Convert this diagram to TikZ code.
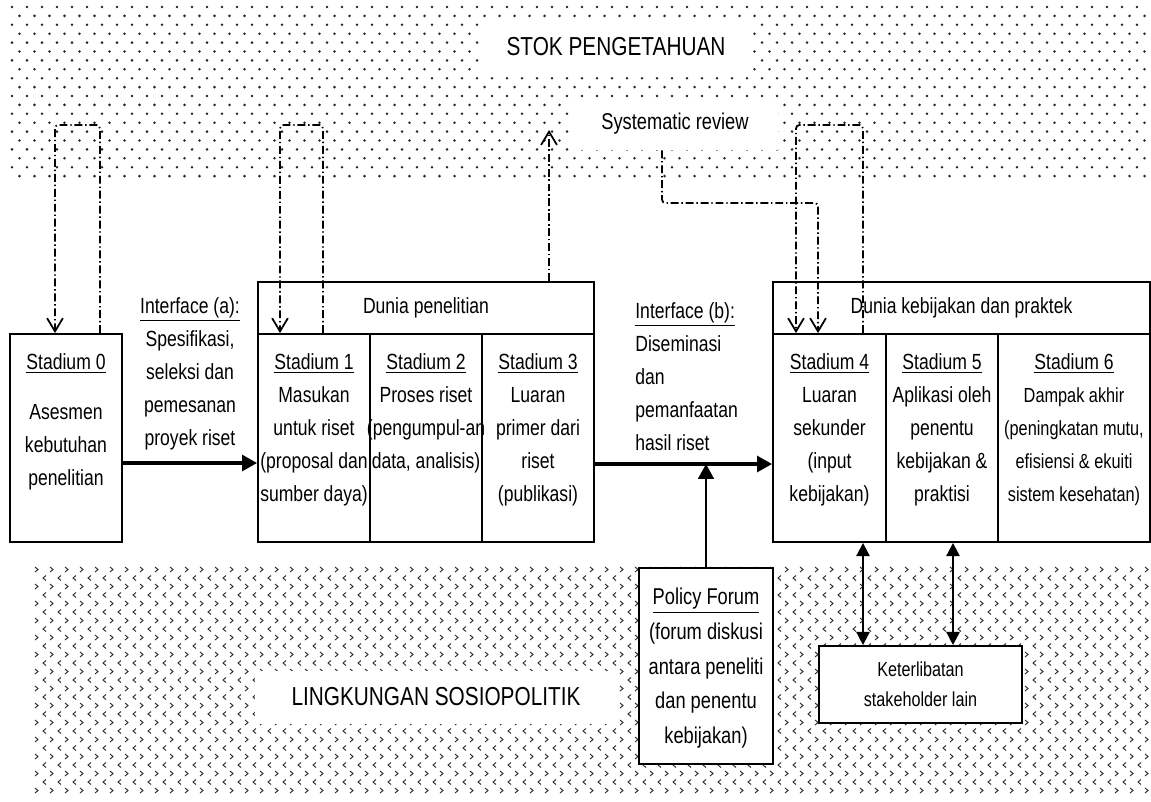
\documentclass[tikz,border=0pt]{standalone}
\usepackage{fontspec}
\setmainfont{Liberation Sans}[FakeStretch=0.8]
\usetikzlibrary{arrows.meta,positioning,calc}

\begin{document}
\begin{tikzpicture}[x=0.02cm,y=-0.02cm,
  font=\fontsize{12.5}{18.8}\selectfont,
  stbox/.style={draw,line width=1.1pt,fill=white,minimum height=4.16cm,inner sep=0pt},
  head/.style={draw,line width=1.1pt,fill=white,minimum height=1.04cm,inner sep=0pt},
  txt/.style={align=center,inner sep=0pt,anchor=north},
  cut/.style={fill=white,inner sep=0pt},
  dotc/.style={fill=black!85},
  chev/.style={draw=black!80,line width=0.55pt},
  flow/.style={-{Triangle[length=8.5pt,width=9pt]},line width=1.8pt},
  both/.style={{Triangle[length=7.5pt,width=7.5pt]}-{Triangle[length=7.5pt,width=7.5pt]},line width=1.2pt},
  dd/.style={line width=1pt,dash pattern=on 4.5pt off 1.6pt on 0.8pt off 1.6pt,rounded corners=2pt,
             -{Straight Barb[length=7.5pt,width=9pt,line width=1pt]}}]
\useasboundingbox (0,0) rectangle (1151,801);

% stok pengetahuan (dots) and lingkungan (chevrons)
\fill[dotc] \foreach \row in {0,...,19}{\foreach \col in {0,...,75}{
  ({12+15*\col+7.5*mod(\row,2)},{7+8.9*\row}) circle (0.8pt)}};
\draw[chev] \foreach \row in {0,2,...,26}{\foreach \col in {0,...,74}{
  ({35+15*\col},{567+8.5*\row}) -- ++(3,2.5) -- ++(-3,2.5)}};
\draw[chev] \foreach \row in {1,3,...,25}{\foreach \col in {0,...,73}{
  ({46+15*\col},{567+8.5*\row}) -- ++(-3,2.5) -- ++(3,2.5)}};

\node[cut,minimum width=5.44cm,minimum height=1cm,font=\fontsize{14.8}{16}\selectfont] (stok) at (616,47) {STOK PENGETAHUAN};
\node[cut,minimum width=4.12cm,minimum height=1.04cm,font=\fontsize{13}{16}\selectfont] (sysrev) at (675,124) {Systematic review};
\node[cut,minimum width=7.24cm,minimum height=1.06cm,font=\fontsize{14.8}{16}\selectfont] (ling) at (436,697) {LINGKUNGAN SOSIOPOLITIK};

% stadium boxes
\node[stbox,minimum width=2.24cm] (s0) at (66,438) {};
\node[head,minimum width=6.72cm] (dp) at (426,308) {Dunia penelitian};
\node[stbox,minimum width=2.24cm] (s1) at (314,438) {};
\node[stbox,minimum width=2.24cm] (s2) at (426,438) {};
\node[stbox,minimum width=2.24cm] (s3) at (538,438) {};
\node[head,minimum width=7.54cm] (dk) at (961.5,308) {Dunia kebijakan dan praktek};
\node[stbox,minimum width=2.26cm] (s4) at (829.5,438) {};
\node[stbox,minimum width=2.24cm] (s5) at (942,438) {};
\node[stbox,minimum width=3.04cm] (s6) at (1074,438) {};
\node[stbox,minimum width=2.68cm,minimum height=3.92cm] (pf) at (706,666) {};
\node[draw,line width=1.1pt,fill=white,minimum width=4.06cm,minimum height=1.54cm,
      align=center,font=\fontsize{11.5}{17}\selectfont] (kt) at (920.5,684.5)
  {Keterlibatan\\stakeholder lain};

\node[txt,below=4mm of s0.north] (l0) {\underline{Stadium 0}\\[10pt]Asesmen\\kebutuhan\\penelitian};
\node[txt,below=4mm of s1.north] (l1) {\underline{Stadium 1}\\Masukan\\untuk riset\\(proposal dan\\sumber daya)};
\node[txt,below=4mm of s2.north] (l2) {\underline{Stadium 2}\\Proses riset\\(pengumpul-an\\data, analisis)};
\node[txt,below=4mm of s3.north] (l3) {\underline{Stadium 3}\\Luaran\\primer dari\\riset\\(publikasi)};
\node[txt,below=4mm of s4.north] (l4) {\underline{Stadium 4}\\Luaran\\sekunder\\(input\\kebijakan)};
\node[txt,below=4mm of s5.north] (l5) {\underline{Stadium 5}\\Aplikasi oleh\\penentu\\kebijakan \&\\praktisi};
\node[txt,below=4mm of s6.north] (l6) {\underline{Stadium 6}\\{\fontsize{11.6}{18.8}\selectfont Dampak akhir}\\
  {\fontsize{11.6}{18.8}\selectfont (peningkatan mutu,}\\{\fontsize{11.6}{18.8}\selectfont efisiensi \& ekuiti}\\
  {\fontsize{11.6}{18.8}\selectfont sistem kesehatan)}};
\node[txt,below=4.2mm of pf.north,font=\fontsize{13}{19.7}\selectfont] (lpf)
  {\underline{Policy Forum}\\(forum diskusi\\antara peneliti\\dan penentu\\kebijakan)};

% interfaces
\node[txt] (ia) at (190,297) {\underline{Interface (a):}\\Spesifikasi,\\seleksi dan\\pemesanan\\proyek riset};
\node[txt,align=left,anchor=north west] (ib) at (635,302)
  {\underline{Interface (b):}\\Diseminasi\\dan\\pemanfaatan\\hasil riset};

\coordinate (ha) at (190,463);
\coordinate (hb) at (706,464);
\draw[flow] (s0.east |- ha) -- (s1.west |- ha);
\draw[flow] (s3.east |- hb) -- (s4.west |- hb);
\draw[flow,line width=1.3pt] (pf.north) -- (hb);
\coordinate (k1) at (863,600);
\coordinate (k2) at (953,600);
\draw[both] (s4.south -| k1) -- (kt.north -| k1);
\draw[both] (s5.south -| k2) -- (kt.north -| k2);

% feedback loops to the stock of knowledge
\coordinate (u0) at (100,125); \coordinate (d0) at (55,125);
\coordinate (u1) at (323,125); \coordinate (d1) at (280,125);
\coordinate (u4) at (863,125); \coordinate (d4) at (796,125);
\coordinate (up3) at (549,130);
\coordinate (sv1) at (662,203); \coordinate (sv2) at (818,203);
\draw[dd] (s0.north -| u0) -- (u0) -- (d0) -- (s0.north -| d0);
\draw[dd] (s1.north -| u1) -- (u1) -- (d1) -- (s1.north -| d1);
\draw[dd] (s4.north -| u4) -- (u4) -- (d4) -- (s4.north -| d4);
\draw[dd] (dp.north -| up3) -- (up3);
\draw[dd] (sysrev.south -| sv1) -- (sv1) -- (sv2) -- (s4.north -| sv2);
\end{tikzpicture}
\end{document}
